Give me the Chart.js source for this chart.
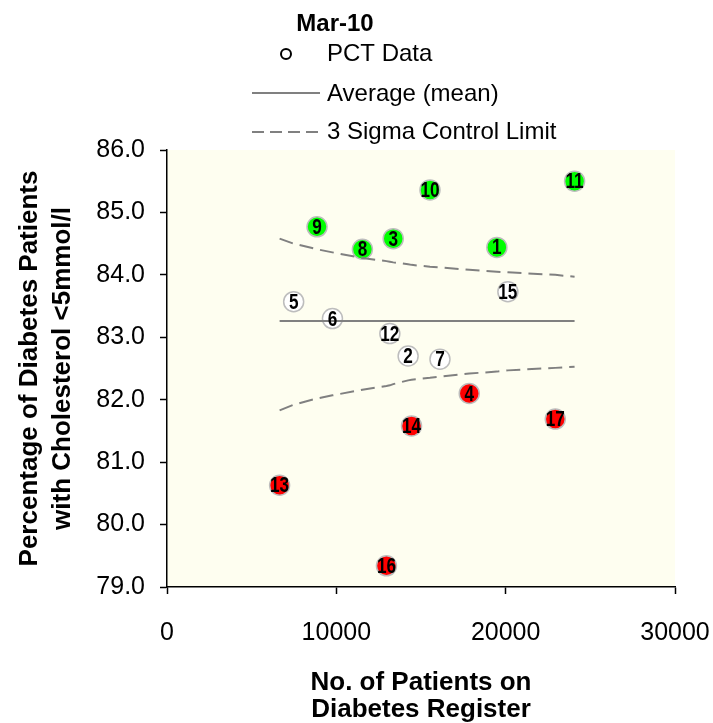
<!DOCTYPE html>
<html><head><meta charset="utf-8">
<script src="https://cdn.jsdelivr.net/npm/chart.js@4/dist/chart.umd.min.js"></script>
<style>html,body{margin:0;padding:0;background:#fff}canvas{display:block}</style>
</head><body>
<canvas id="c" width="713" height="723"></canvas>
<script>
// ---- data ----
const practiceIds = ['1','2','3','4','5','6','7','8','9','10','11','12','13','14','15','16','17'];
const patients   = [19480,14240,13360,17850,7480,9770,16120,11540,8860,15530,24070,13160,6650,14440,20130,12960,22930];
const pctValues  = [84.44,82.70,84.58,82.10,83.57,83.30,82.65,84.41,84.77,85.36,85.50,83.06,80.63,81.58,83.73,79.34,81.69];
const meanValue  = 83.26;
const meanRangeX = [6650, 24070];
const limitX     = [6650,7480,8860,9770,11540,12960,13160,13360,14240,14440,15530,16120,17850,19480,20130,22930,24070];
const upperLimit = [84.58,84.50,84.41,84.36,84.27,84.22,84.21,84.20,84.17,84.16,84.13,84.12,84.08,84.05,84.04,84.00,83.97];
const lowerLimit = [81.83,81.92,82.02,82.07,82.16,82.22,82.23,82.25,82.31,82.32,82.35,82.37,82.42,82.45,82.47,82.51,82.53];
const legendTitle = 'Mar-10';
const seriesNames = ['PCT Data','Average (mean)','3 Sigma Control Limit'];
const xTitle = ['No. of Patients on','Diabetes Register'];
const yTitle = ['Percentage of Diabetes Patients','with Cholesterol <5mmol/l'];

// ---- styles ----
const GREEN = '#00FF00', RED = '#FF0000', WHITE = '#FFFFFF';
const pointFill = [GREEN,WHITE,GREEN,RED,WHITE,WHITE,WHITE,GREEN,GREEN,GREEN,GREEN,WHITE,RED,RED,WHITE,RED,RED];
const FONT = "'Liberation Sans', Arial, sans-serif";
const LINE_GREY = '#808080';

const pointData = patients.map((x,i)=>({x:x, y:pctValues[i]}));
const upperData = limitX.map((x,i)=>({x:x, y:upperLimit[i]}));
const lowerData = limitX.map((x,i)=>({x:x, y:lowerLimit[i]}));
const meanData  = meanRangeX.map(x=>({x:x, y:meanValue}));

const bgPlugin = {
  id:'bg',
  beforeDraw(chart){
    const {ctx, chartArea:a} = chart;
    ctx.save(); ctx.fillStyle = '#FEFEF0';
    ctx.fillRect(a.left, a.top, a.right-a.left, a.bottom-a.top);
    ctx.restore();
  }
};
const labelPlugin = {
  id:'ptlabels',
  afterDatasetsDraw(chart){
    const meta = chart.getDatasetMeta(0);
    const ctx = chart.ctx;
    ctx.save();
    ctx.font = "bold 22px " + FONT;
    ctx.fillStyle = '#000';
    ctx.textAlign = 'center'; ctx.textBaseline = 'middle';
    meta.data.forEach((el,i)=>{
      ctx.save();
      ctx.translate(el.x, el.y+1);
      ctx.scale(0.78, 1);
      ctx.fillText(practiceIds[i], 0, 0);
      ctx.restore();
    });
    ctx.restore();
  }
};
const legendPlugin = {
  id:'customLegend',
  afterDraw(chart){
    const ctx = chart.ctx;
    ctx.save();
    ctx.fillStyle = '#000';
    ctx.textBaseline = 'middle';
    ctx.textAlign = 'center';
    ctx.font = "bold 24px " + FONT;
    ctx.fillText(legendTitle, 335, 24);
    ctx.textAlign = 'left';
    ctx.font = "24px " + FONT;
    ctx.beginPath(); ctx.lineWidth = 2; ctx.strokeStyle = '#000';
    ctx.arc(286, 54, 5, 0, Math.PI*2); ctx.stroke();
    ctx.fillText(seriesNames[0], 327, 54);
    ctx.beginPath(); ctx.strokeStyle = LINE_GREY; ctx.lineWidth = 2;
    ctx.moveTo(252, 93); ctx.lineTo(320, 93); ctx.stroke();
    ctx.fillText(seriesNames[1], 327, 94);
    ctx.beginPath(); ctx.setLineDash([12,6]);
    ctx.moveTo(252, 132); ctx.lineTo(320, 132); ctx.stroke();
    ctx.setLineDash([]);
    ctx.fillText(seriesNames[2], 327, 132);
    ctx.restore();
  }
};

new Chart(document.getElementById('c'), {
  type:'scatter',
  data:{ datasets:[
    { label:seriesNames[0], data:pointData, order:3,
      pointRadius:10, pointHoverRadius:10, pointBorderWidth:1.5,
      pointBorderColor:'#BDBDBD', pointBackgroundColor:pointFill, showLine:false },
    { label:seriesNames[1], data:meanData, order:1, showLine:true,
      borderColor:LINE_GREY, borderWidth:2, pointRadius:0 },
    { label:seriesNames[2], data:upperData, order:2, showLine:true,
      borderColor:LINE_GREY, borderWidth:2, borderDash:[14,7], pointRadius:0 },
    { label:seriesNames[2]+' (lower)', data:lowerData, order:2, showLine:true,
      borderColor:LINE_GREY, borderWidth:2, borderDash:[14,7], pointRadius:0 }
  ]},
  options:{
    responsive:false, animation:false, devicePixelRatio:1,
    layout:{ padding:{ top:150, right:38, bottom:0, left:0 } },
    plugins:{ legend:{display:false}, tooltip:{enabled:false} },
    events:[],
    scales:{
      x:{ type:'linear', min:0, max:30000,
        afterFit(s){ s.height = 136; s.paddingRight = 0; s.paddingLeft = 0; },
        ticks:{ stepSize:10000, color:'#000', font:{family:FONT, size:25}, padding:24, maxRotation:0,
                callback:v=>String(v) },
        grid:{ drawOnChartArea:false, drawTicks:true, tickLength:7, tickColor:'#000', tickWidth:1.5 },
        border:{ color:'#000', width:1.5 },
        title:{ display:true, text:xTitle, color:'#000', font:{family:FONT, size:26, weight:'bold', lineHeight:'27px'}, padding:{top:0,bottom:0} }
      },
      y:{ type:'linear', min:79, max:86,
        afterFit(s){ s.width = 167; s.paddingTop = 0; s.paddingBottom = 0; },
        ticks:{ stepSize:1, color:'#000', font:{family:FONT, size:25}, padding:15,
                callback:v=>Number(v).toFixed(1) },
        grid:{ drawOnChartArea:false, drawTicks:true, tickLength:7, tickColor:'#000', tickWidth:1.5 },
        border:{ color:'#000', width:1.5 },
        title:{ display:true, text:yTitle, color:'#000', font:{family:FONT, size:26, weight:'bold', lineHeight:'33px'}, padding:{top:13,bottom:0} }
      }
    }
  },
  plugins:[bgPlugin, labelPlugin, legendPlugin]
});
</script>
</body></html>
